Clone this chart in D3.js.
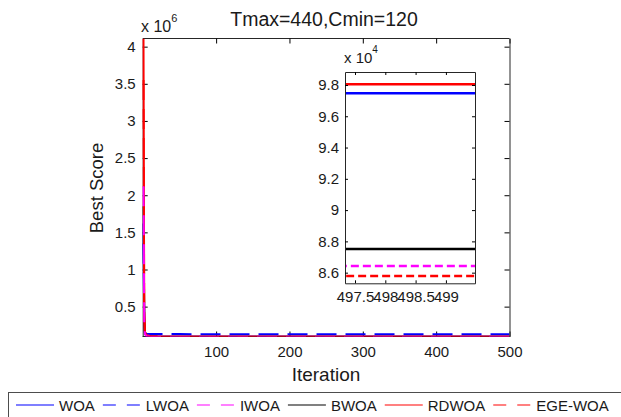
<!DOCTYPE html>
<html>
<head>
<meta charset="utf-8">
<script src="https://cdn.jsdelivr.net/npm/d3@7"></script>
<style>
body { margin: 0; background: #fff; }
text { font-family: "Liberation Sans", Arial, sans-serif; fill: #1a1a1a; }
</style>
</head>
<body>
<div id="chart"></div>
<script>
var iterations = [1, 2, 3, 5, 10, 20, 50, 100, 200, 300, 400, 500];
var woa    = [1.62e6, 3.1e5, 1.45e5, 1.12e5, 1.04e5, 1.01e5, 9.96e4, 9.85e4, 9.78e4, 9.75e4, 9.747e4, 9.747e4];
var lwoa   = [1.35e6, 2.6e5, 1.52e5, 1.36e5, 1.33e5, 1.31e5, 1.30e5, 1.29e5, 1.285e5, 1.28e5, 1.28e5, 1.28e5];
var iwoa   = [2.12e6, 2.9e5, 1.3e5, 1.02e5, 9.4e4, 9.0e4, 8.8e4, 8.72e4, 8.68e4, 8.645e4, 8.642e4, 8.642e4];
var bwoa   = [1.85e6, 3.4e5, 1.4e5, 1.05e5, 9.5e4, 9.1e4, 8.9e4, 8.82e4, 8.78e4, 8.755e4, 8.751e4, 8.751e4];
var rdwoa  = [4.11e6, 4.2e5, 1.6e5, 1.15e5, 1.05e5, 1.01e5, 9.95e4, 9.88e4, 9.83e4, 9.81e4, 9.805e4, 9.805e4];
var egewoa = [3.55e6, 3.7e5, 1.25e5, 9.8e4, 9.1e4, 8.85e4, 8.7e4, 8.64e4, 8.6e4, 8.585e4, 8.578e4, 8.578e4];

var seriesNames = ['WOA', 'LWOA', 'IWOA', 'BWOA', 'RDWOA', 'EGE-WOA'];
var seriesValues = [woa, lwoa, iwoa, bwoa, rdwoa, egewoa];
var seriesColors = ['#0000ff', '#0000ff', '#ff00ff', '#000000', '#ff0000', '#ff0000'];
var legendColors = ['#7f7fff', '#7f7fff', '#ff80ff', '#808080', '#ff8080', '#ff8080'];
var seriesDashed = [false, true, true, false, false, true];
var drawOrder = [0, 1, 3, 5, 4, 2];

var xTicks = [100, 200, 300, 400, 500];
var yTicks = [0.5e6, 1e6, 1.5e6, 2e6, 2.5e6, 3e6, 3.5e6, 4e6];
var yTickLabels = ['0.5', '1', '1.5', '2', '2.5', '3', '3.5', '4'];
var insetXTicks = [497.5, 498, 498.5, 499];
var insetXTickLabels = ['497.5', '498', '498.5', '499'];
var insetYTicks = [8.6e4, 8.8e4, 9e4, 9.2e4, 9.4e4, 9.6e4, 9.8e4];
var insetYTickLabels = ['8.6', '8.8', '9', '9.2', '9.4', '9.6', '9.8'];

var svg = d3.select('#chart').append('svg')
    .attr('width', 621).attr('height', 417);
svg.append('rect').attr('width', 621).attr('height', 417).attr('fill', '#fff');

var x = d3.scaleLinear().domain([1, 500]).range([143.5, 509.5]);
var y = d3.scaleLinear().domain([0.098e6, 4.11e6]).range([336.5, 38.5]);
var ix = d3.scaleLinear().domain([497.335, 499.48]).range([345, 475]);
var iy = d3.scaleLinear().domain([85320, 98830]).range([283.3, 72]);
var leftEdge = 142.7;

var defs = svg.append('defs');
defs.append('clipPath').attr('id', 'mainClip').append('rect')
    .attr('x', leftEdge - 0.5).attr('y', y.range()[1])
    .attr('width', x.range()[1] - leftEdge + 0.5).attr('height', y.range()[0] - y.range()[1]);
defs.append('clipPath').attr('id', 'insetClip').append('rect')
    .attr('x', ix.range()[0]).attr('y', iy.range()[1])
    .attr('width', ix.range()[1] - ix.range()[0]).attr('height', iy.range()[0] - iy.range()[1]);

function styleAxis(g) {
    g.selectAll('path.domain').attr('stroke', '#262626');
    g.selectAll('.tick line').attr('stroke', '#000');
    g.selectAll('.tick text').attr('font-size', 15).attr('fill', '#1a1a1a')
        .attr('font-family', '"Liberation Sans", Arial, sans-serif');
}

function drawLines(layer, sx, sy, dash, width) {
    drawOrder.forEach(function(k) {
        var pts = iterations.map(function(it, i) { return [it, seriesValues[k][i]]; });
        var line = d3.line().x(function(d) { return sx(d[0]); }).y(function(d) { return sy(d[1]); });
        layer.append('path')
            .attr('d', line(pts))
            .attr('fill', 'none')
            .attr('stroke', seriesColors[k])
            .attr('stroke-width', width)
            .attr('stroke-dasharray', seriesDashed[k] ? dash : null);
    });
}

// main axes
svg.append('g').attr('transform', 'translate(0,' + y.range()[0] + ')')
    .call(d3.axisBottom(x).tickValues(xTicks).tickSize(-5).tickSizeOuter(0).tickPadding(10))
    .call(styleAxis)
    .select('path.domain').attr('d', 'M' + leftEdge + ',0H' + x.range()[1]);
svg.append('g').attr('transform', 'translate(0,' + y.range()[1] + ')')
    .call(d3.axisTop(x).tickValues(xTicks).tickSize(-5).tickSizeOuter(0).tickFormat(''))
    .call(styleAxis)
    .select('path.domain').attr('d', 'M' + leftEdge + ',0H' + x.range()[1]);
svg.append('g').attr('transform', 'translate(' + leftEdge + ',0)')
    .call(d3.axisLeft(y).tickValues(yTicks).tickSize(-5).tickSizeOuter(0).tickPadding(7)
        .tickFormat(function(d, i) { return yTickLabels[i]; }))
    .call(styleAxis);
svg.append('g').attr('transform', 'translate(' + x.range()[1] + ',0)')
    .call(d3.axisRight(y).tickValues(yTicks).tickSize(-5).tickSizeOuter(0).tickFormat(''))
    .call(styleAxis);

drawLines(svg.append('g').attr('clip-path', 'url(#mainClip)'), x, y, '20,9', 2);

var e6 = svg.append('text').attr('x', 141).attr('y', 32).attr('font-size', 16);
e6.append('tspan').text('x 10');
e6.append('tspan').attr('dy', -10).attr('font-size', 11).text('6');

svg.append('text').attr('x', 324).attr('y', 26).attr('text-anchor', 'middle')
    .attr('font-size', 19.5).text('Tmax=440,Cmin=120');
svg.append('text').attr('x', 326).attr('y', 381).attr('text-anchor', 'middle')
    .attr('font-size', 19).text('Iteration');
svg.append('text').attr('transform', 'translate(103,188) rotate(-90)').attr('text-anchor', 'middle')
    .attr('font-size', 18.5).text('Best Score');

// inset
svg.append('rect').attr('x', ix.range()[0]).attr('y', iy.range()[1])
    .attr('width', ix.range()[1] - ix.range()[0]).attr('height', iy.range()[0] - iy.range()[1])
    .attr('fill', '#fff');
drawLines(svg.append('g').attr('clip-path', 'url(#insetClip)'), ix, iy, '8,4', 2.5);

svg.append('g').attr('transform', 'translate(0,' + iy.range()[0] + ')')
    .call(d3.axisBottom(ix).tickValues(insetXTicks).tickSize(-3).tickSizeOuter(0).tickPadding(8)
        .tickFormat(function(d, i) { return insetXTickLabels[i]; }))
    .call(styleAxis);
svg.append('g').attr('transform', 'translate(0,' + iy.range()[1] + ')')
    .call(d3.axisTop(ix).tickValues(insetXTicks).tickSize(-3).tickSizeOuter(0).tickFormat(''))
    .call(styleAxis);
svg.append('g').attr('transform', 'translate(' + ix.range()[0] + ',0)')
    .call(d3.axisLeft(iy).tickValues(insetYTicks).tickSize(-3).tickSizeOuter(0).tickPadding(6)
        .tickFormat(function(d, i) { return insetYTickLabels[i]; }))
    .call(styleAxis);
svg.append('g').attr('transform', 'translate(' + ix.range()[1] + ',0)')
    .call(d3.axisRight(iy).tickValues(insetYTicks).tickSize(-3).tickSizeOuter(0).tickFormat(''))
    .call(styleAxis);

var e4 = svg.append('text').attr('x', 344).attr('y', 63).attr('font-size', 15);
e4.append('tspan').text('x 10');
e4.append('tspan').attr('dy', -10).attr('font-size', 10).text('4');

// legend
var legend = svg.append('g');
legend.append('rect').attr('x', 8.5).attr('y', 392.5).attr('width', 620).attr('height', 40)
    .attr('fill', '#fff').attr('stroke', '#4d4d4d');
var lx = 16;
seriesNames.forEach(function(name, k) {
    legend.append('line').attr('x1', lx).attr('x2', lx + 38).attr('y1', 405).attr('y2', 405)
        .attr('stroke', legendColors[k]).attr('stroke-width', 1.8)
        .attr('stroke-dasharray', seriesDashed[k] ? '13,11' : null);
    var t = legend.append('text').attr('x', lx + 43).attr('y', 410.5).attr('font-size', 15).text(name);
    lx = lx + 43 + t.node().getComputedTextLength() + 8;
});
</script>
</body>
</html>
